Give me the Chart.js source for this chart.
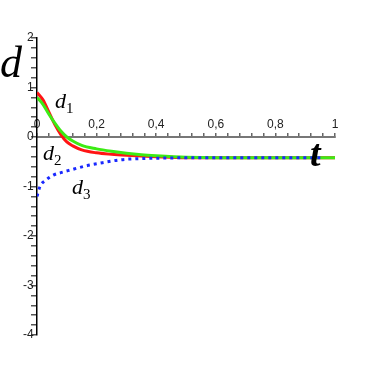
<!DOCTYPE html>
<html>
<head>
<meta charset="utf-8">
<script src="https://cdn.jsdelivr.net/npm/chart.js@4"></script>
<style>
  body { margin: 0; background: #fff; }
  #wrap { position: relative; width: 373px; height: 373px; }
  .lbl { position: absolute; font-family: "Liberation Serif", "DejaVu Serif", serif; font-style: italic; color: #000; line-height: 1; white-space: nowrap; }
  .sm { font-size: 22px; }
  .sm sub { font-size: 15px; font-style: normal; vertical-align: -5px; }
</style>
</head>
<body>
<div id="wrap">
  <canvas id="grafik" width="373" height="373"></canvas>
  <span class="lbl" style="left:0px; top:41px; font-size:44px;">d</span>
  <span class="lbl" style="left:310px; top:134px; font-size:38px; font-weight:bold;">t</span>
  <span class="lbl sm" style="left:55px; top:90px;">d<sub>1</sub></span>
  <span class="lbl sm" style="left:43px; top:142px;">d<sub>2</sub></span>
  <span class="lbl sm" style="left:72px; top:176px;">d<sub>3</sub></span>
</div>
<script>
// data kurva
const tMerah = [0, 0.02, 0.04, 0.06, 0.08, 0.1, 0.12, 0.15, 0.2, 0.25, 0.3, 0.4, 0.5, 0.6, 0.7, 0.8, 0.9, 1];
const dMerah = [0.9, 0.75, 0.5, 0.25, 0.05, -0.1, -0.18, -0.26, -0.32, -0.35, -0.37, -0.40, -0.42, -0.42, -0.42, -0.42, -0.42, -0.42];

const tHijau = [0, 0.02, 0.04, 0.06, 0.08, 0.1, 0.12, 0.15, 0.2, 0.25, 0.3, 0.35, 0.4, 0.5, 0.6, 0.7, 0.8, 0.9, 1];
const dHijau = [0.8, 0.66, 0.46, 0.28, 0.12, 0.0, -0.08, -0.17, -0.24, -0.29, -0.33, -0.36, -0.38, -0.41, -0.42, -0.42, -0.42, -0.42, -0.42];

const tBiru = [0, 0.01, 0.03, 0.055, 0.08, 0.11, 0.167, 0.22, 0.28, 0.33, 0.39, 0.5, 0.6, 0.7, 0.8, 0.9, 0.96];
const dBiru = [-1.2, -1.0, -0.87, -0.77, -0.72, -0.67, -0.58, -0.52, -0.46, -0.44, -0.43, -0.42, -0.42, -0.42, -0.42, -0.42, -0.42];

// tick sumbu
const xTicks = [];
for (let i = 0; i <= 25; i++) xTicks.push(+(i * 0.04).toFixed(2));
const xLabels = [0, 0.2, 0.4, 0.6, 0.8, 1];
const yTicks = [];
for (let i = -20; i <= 10; i++) yTicks.push(+(i * 0.2).toFixed(1));
const yLabels = [-4, -3, -2, -1, 0, 1, 2];

function toPoints(ts, ds) {
    return ts.map((t, i) => ({ x: t, y: ds[i] }));
}

const fontTick = { family: '"Liberation Sans", Arial, sans-serif', size: 12 };

const config = {
    type: 'line',
    data: {
        datasets: [
            {
                label: 'd3',
                data: toPoints(tBiru, dBiru),
                borderColor: 'rgb(25, 40, 255)',
                borderWidth: 3,
                borderDash: [3, 4],
                pointRadius: 0,
                cubicInterpolationMode: 'monotone'
            },
            {
                label: 'd2',
                data: toPoints(tHijau, dHijau),
                borderColor: 'rgb(60, 235, 20)',
                borderWidth: 3,
                pointRadius: 0,
                cubicInterpolationMode: 'monotone'
            },
            {
                label: 'd1',
                data: toPoints(tMerah, dMerah),
                borderColor: 'rgb(255, 20, 20)',
                borderWidth: 3,
                pointRadius: 0,
                cubicInterpolationMode: 'monotone'
            }
        ]
    },
    options: {
        responsive: false,
        animation: false,
        layout: { padding: { left: 37, right: 38, top: 38, bottom: 38 } },
        plugins: { legend: { display: false }, tooltip: { enabled: false } },
        scales: {
            x: {
                type: 'linear',
                min: 0,
                max: 1,
                position: { y: 0 },
                border: { color: '#777', width: 2 },
                grid: { drawOnChartArea: false, color: '#666', tickLength: -5, lineWidth: 1.5 },
                afterBuildTicks: s => { s.ticks = xTicks.map(v => ({ value: v })); },
                ticks: {
                    autoSkip: false,
                    maxRotation: 0,
                    color: '#222',
                    font: fontTick,
                    padding: -15,
                    callback: v => {
                        if (!xLabels.some(l => Math.abs(l - v) < 1e-6)) return '';
                        if (v === 0 || v === 1) return String(v);
                        return v.toFixed(1).replace('.', ',');
                    }
                }
            },
            y: {
                type: 'linear',
                min: -4,
                max: 2,
                position: { x: 0 },
                border: { color: '#000', width: 1.5 },
                grid: { drawOnChartArea: false, color: '#555', tickLength: 5, lineWidth: 1.5 },
                afterBuildTicks: s => { s.ticks = yTicks.map(v => ({ value: v })); },
                ticks: {
                    autoSkip: false,
                    color: '#222',
                    font: fontTick,
                    padding: 2,
                    // spasi di belakang supaya label tidak menempel ke sumbu
                    callback: v => yLabels.some(l => Math.abs(l - v) < 1e-6) ? String(Math.round(v)) + ' ' : ''
                }
            }
        }
    }
};

new Chart(document.getElementById('grafik').getContext('2d'), config);
</script>
</body>
</html>
